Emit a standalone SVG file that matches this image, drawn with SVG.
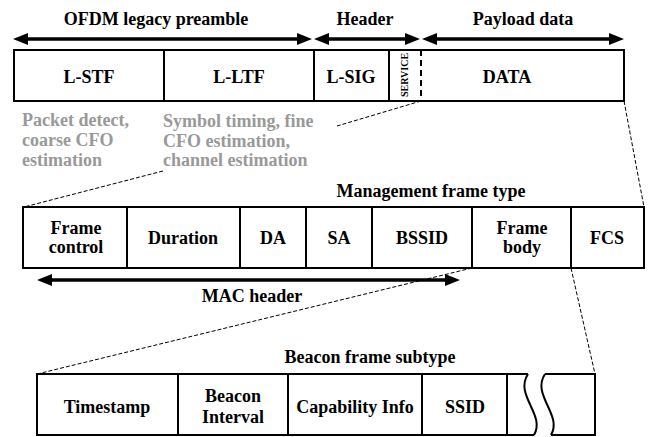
<svg xmlns="http://www.w3.org/2000/svg" width="648" height="437" viewBox="0 0 648 437" font-family="'Liberation Serif', Tinos, 'Times New Roman', 'DejaVu Serif', serif">
<style>
text{font-family:'Liberation Serif', Tinos, 'Times New Roman', 'DejaVu Serif', serif;font-weight:700;font-size:18px}
.t{fill:#000;text-anchor:middle}
.g{fill:#999}
.s{font-size:10px}
.box{fill:#fff;stroke:#000;stroke-width:2}
.div{stroke:#000;stroke-width:2;fill:none}
.dash{stroke:#000;stroke-width:1;stroke-dasharray:4 2;fill:none}
.arr{stroke:#000;stroke-width:3.5;fill:none}
.ah{fill:#000}
</style>
<rect width="648" height="437" fill="#fff"/>
<g id="connectors">
<line class="arr" x1="24" y1="39" x2="301" y2="39"/>
<polygon class="ah" points="13,39 28,33 28,45"/>
<polygon class="ah" points="312,39 297,33 297,45"/>
<line class="arr" x1="325" y1="39" x2="409" y2="39"/>
<polygon class="ah" points="314,39 329,33 329,45"/>
<polygon class="ah" points="420,39 405,33 405,45"/>
<line class="arr" x1="433" y1="39" x2="613" y2="39"/>
<polygon class="ah" points="422,39 437,33 437,45"/>
<polygon class="ah" points="624,39 609,33 609,45"/>
<line class="arr" x1="48" y1="280" x2="449" y2="280"/>
<polygon class="ah" points="37,280 52,274 52,286"/>
<polygon class="ah" points="460,280 445,274 445,286"/>
<line class="dash" x1="421" y1="101" x2="337" y2="126"/>
<line class="dash" x1="163" y1="171" x2="24" y2="207"/>
<line class="dash" x1="624" y1="101" x2="644" y2="207"/>
<line class="dash" x1="472" y1="268" x2="37" y2="374"/>
<line class="dash" x1="571" y1="268" x2="595" y2="374"/>
</g>
<g id="labels">
<text class="t" x="156" y="25">OFDM legacy preamble</text>
<text class="t" x="365" y="25">Header</text>
<text class="t" x="523" y="25">Payload data</text>
<text class="t" x="431" y="197">Management frame type</text>
<text class="t" x="252" y="302">MAC header</text>
<text class="t" x="370" y="363">Beacon frame subtype</text>
</g>
<g id="notes">
<text class="g" x="22" y="126">Packet detect,</text>
<text class="g" x="22" y="146">coarse CFO</text>
<text class="g" x="22" y="166">estimation</text>
<text class="g" x="163" y="127">Symbol timing, fine</text>
<text class="g" x="163" y="147">CFO estimation,</text>
<text class="g" x="163" y="166">channel estimation</text>
</g>
<g id="row1">
<rect class="box" x="14" y="50" width="610" height="51"/>
<line class="div" x1="164" y1="50" x2="164" y2="101"/>
<line class="div" x1="314" y1="50" x2="314" y2="101"/>
<line class="div" x1="389" y1="50" x2="389" y2="101" stroke-width="3"/>
<line class="div" x1="421" y1="50" x2="421" y2="101" stroke-dasharray="6 4"/>
<text class="t" x="89" y="83">L-STF</text>
<text class="t" x="239" y="83">L-LTF</text>
<text class="t" x="351" y="83">L-SIG</text>
<text class="t" x="507" y="83">DATA</text>
<text class="t s" transform="translate(408,75) rotate(-90)">SERVICE</text>
</g>
<g id="row2">
<rect class="box" x="23" y="207" width="621" height="61"/>
<line class="div" x1="127" y1="207" x2="127" y2="268"/>
<line class="div" x1="240" y1="207" x2="240" y2="268"/>
<line class="div" x1="306" y1="207" x2="306" y2="268"/>
<line class="div" x1="372" y1="207" x2="372" y2="268"/>
<line class="div" x1="472" y1="207" x2="472" y2="268"/>
<line class="div" x1="571" y1="207" x2="571" y2="268"/>
<text class="t" x="76" y="234">Frame</text>
<text class="t" x="76" y="253">control</text>
<text class="t" x="183" y="244">Duration</text>
<text class="t" x="273" y="244">DA</text>
<text class="t" x="339" y="244">SA</text>
<text class="t" x="422" y="244">BSSID</text>
<text class="t" x="522" y="234">Frame</text>
<text class="t" x="522" y="253">body</text>
<text class="t" x="607" y="244">FCS</text>
</g>
<g id="row3">
<path class="div" d="M528,374 H37 V435 H534"/>
<path class="div" d="M528,374 C514,395 546,415 534,435"/>
<path class="div" d="M545,374 C531,395 563,415 551,435"/>
<path class="div" d="M545,374 H595 V435 H551"/>
<line class="div" x1="178" y1="374" x2="178" y2="435"/>
<line class="div" x1="288" y1="374" x2="288" y2="435"/>
<line class="div" x1="422" y1="374" x2="422" y2="435"/>
<line class="div" x1="507" y1="374" x2="507" y2="435"/>
<text class="t" x="107" y="413">Timestamp</text>
<text class="t" x="233" y="402">Beacon</text>
<text class="t" x="233" y="423">Interval</text>
<text class="t" x="355" y="413">Capability Info</text>
<text class="t" x="465" y="413">SSID</text>
</g>
</svg>
